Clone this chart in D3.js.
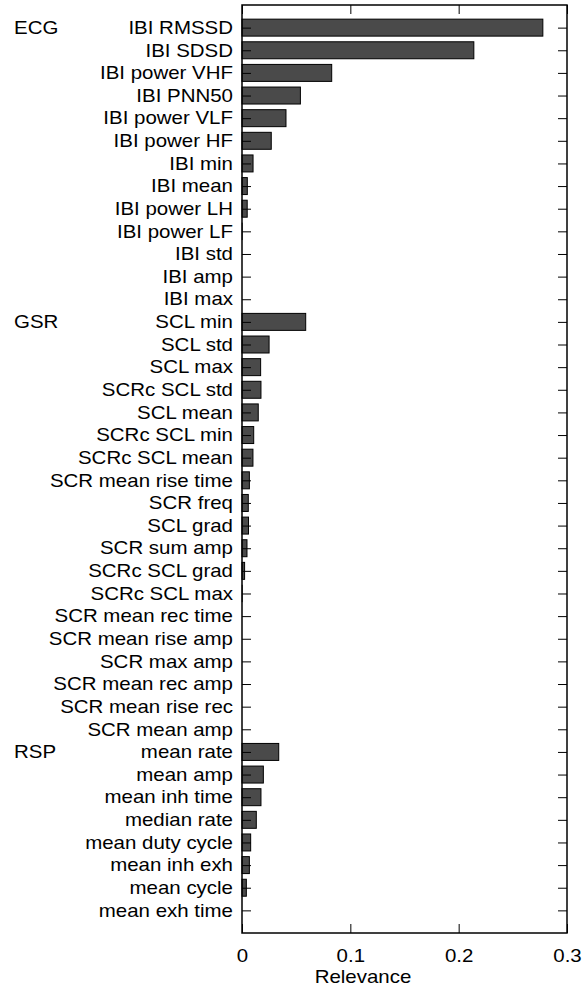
<!DOCTYPE html>
<html>
<head>
<meta charset="utf-8">
<script src="https://cdn.jsdelivr.net/npm/d3@7"></script>
<style>
  body { margin: 0; background: #fff; }
  text { font-family: "Liberation Sans", Arial, sans-serif; fill: #000; }
</style>
</head>
<body>
<svg></svg>
<script>
"use strict";

// features, top to bottom
var features = [
    "IBI RMSSD", "IBI SDSD", "IBI power VHF", "IBI PNN50", "IBI power VLF",
    "IBI power HF", "IBI min", "IBI mean", "IBI power LH", "IBI power LF",
    "IBI std", "IBI amp", "IBI max",
    "SCL min", "SCL std", "SCL max", "SCRc SCL std", "SCL mean", "SCRc SCL min",
    "SCRc SCL mean", "SCR mean rise time", "SCR freq", "SCL grad", "SCR sum amp",
    "SCRc SCL grad", "SCRc SCL max", "SCR mean rec time", "SCR mean rise amp",
    "SCR max amp", "SCR mean rec amp", "SCR mean rise rec", "SCR mean amp",
    "mean rate", "mean amp", "mean inh time", "median rate", "mean duty cycle",
    "mean inh exh", "mean cycle", "mean exh time"
];

var relevance = [
    0.2777, 0.214, 0.0828, 0.0539, 0.0406,
    0.027, 0.0102, 0.0049, 0.0048, 0.0003,
    0, 0, 0,
    0.0588, 0.025, 0.0172, 0.0175, 0.015, 0.0108,
    0.0101, 0.0068, 0.0058, 0.006, 0.0046,
    0.0024, 0.0004, 0, 0,
    0, 0, 0, 0,
    0.0339, 0.0197, 0.0175, 0.0132, 0.008,
    0.0068, 0.004, 0
];

// signal groups and the row where each starts
var groups = ["ECG", "GSR", "RSP"];
var groupStart = ["IBI RMSSD", "SCL min", "mean rate"];

var xTicks = [0, 0.1, 0.2, 0.3];
var xTickLabels = ["0", "0.1", "0.2", "0.3"];

var width = 582,
    height = 989;

var plotLeft = 242, plotRight = 567, plotTop = 5, plotBottom = 933;
var stretch = 1.15; // labels in the original are a bit wide
var fontSize = "17.8px";

var svg = d3.select("svg")
    .attr("width", width)
    .attr("height", height);

var x = d3.scaleLinear().domain([0, 0.3]).range([plotLeft, plotRight]);
var y = d3.scaleLinear().domain([0, features.length + 1]).range([plotTop, plotBottom]);
var barH = (y(1) - y(0)) * 0.75;

var data = features.map(function (f, i) {
    return { name: f, value: relevance[i], row: i + 1 };
});

// bars
svg.append("g").selectAll("rect")
    .data(data)
    .enter()
    .append("rect")
    .attr("x", x(0))
    .attr("y", function (d) { return y(d.row) - barH / 2; })
    .attr("width", function (d) { return x(d.value) - x(0); })
    .attr("height", barH)
    .attr("fill", "#4a4a4a")
    .attr("stroke", "#000")
    .attr("stroke-width", function (d) { return d.value > 0.001 ? 1 : 0.5; });

// y ticks, left and right, pointing inwards
var rows = data.map(function (d) { return d.row; });
svg.append("g").attr("transform", "translate(" + plotLeft + ",0)")
    .call(d3.axisRight(y).tickValues(rows).tickSize(9).tickFormat(""))
    .call(function (g) { g.select(".domain").remove(); });
svg.append("g").attr("transform", "translate(" + plotRight + ",0)")
    .call(d3.axisLeft(y).tickValues(rows).tickSize(9).tickFormat(""))
    .call(function (g) { g.select(".domain").remove(); });

// x ticks, top and bottom
svg.append("g").attr("transform", "translate(0," + plotBottom + ")")
    .call(d3.axisBottom(x).tickValues(xTicks).tickSizeInner(-9).tickSizeOuter(0)
        .tickPadding(16).tickFormat(function (d, i) { return xTickLabels[i]; }))
    .call(function (g) {
        g.select(".domain").remove();
        g.selectAll("text")
            .style("font-size", fontSize)
            .attr("transform", "scale(" + stretch + ",1)");
    });
svg.append("g").attr("transform", "translate(0," + plotTop + ")")
    .call(d3.axisTop(x).tickValues(xTicks).tickSizeInner(-9).tickSizeOuter(0).tickFormat(""))
    .call(function (g) { g.select(".domain").remove(); });

svg.selectAll(".tick line").attr("stroke", "#000");

// frame
svg.append("rect")
    .attr("x", plotLeft)
    .attr("y", plotTop)
    .attr("width", plotRight - plotLeft)
    .attr("height", plotBottom - plotTop)
    .attr("fill", "none")
    .attr("stroke", "#000")
    .attr("stroke-width", 1.5);

// feature labels
svg.append("g").selectAll("text")
    .data(data)
    .enter()
    .append("text")
    .attr("transform", function (d) {
        return "translate(" + (plotLeft - 9) + "," + y(d.row) + ") scale(" + stretch + ",1)";
    })
    .attr("dy", "0.35em")
    .attr("text-anchor", "end")
    .style("font-size", fontSize)
    .text(function (d) { return d.name; });

// group labels
svg.append("g").selectAll("text")
    .data(groups)
    .enter()
    .append("text")
    .attr("transform", function (d, i) {
        return "translate(14," + y(features.indexOf(groupStart[i]) + 1) + ") scale(" + stretch + ",1)";
    })
    .attr("dy", "0.35em")
    .style("font-size", fontSize)
    .text(function (d) { return d; });

// axis title
svg.append("text")
    .attr("transform", "translate(363,983) scale(" + stretch + ",1)")
    .attr("text-anchor", "middle")
    .style("font-size", fontSize)
    .text("Relevance");
</script>
</body>
</html>
